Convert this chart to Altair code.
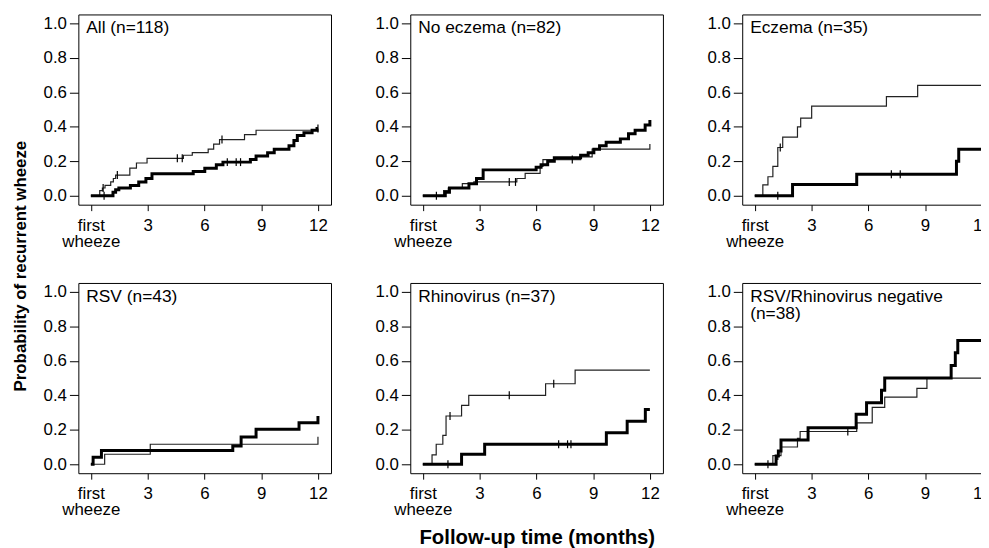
import altair as alt
import pandas as pd

FONT = "Liberation Sans"

# ---------------- data ----------------
titles = [
    ["All (n=118)"],
    ["No eczema (n=82)"],
    ["Eczema (n=35)"],
    ["RSV (n=43)"],
    ["Rhinovirus (n=37)"],
    ["RSV/Rhinovirus negative", "(n=38)"],
]

# Panel 1: All
all_thin_t = [0, 0.47, 0.61, 0.75, 1.05, 1.19, 1.31, 2.06, 2.41, 2.97, 4.89, 5.36, 6.2, 6.49, 6.8, 8.12, 8.73, 12.0]
all_thin_p = [0, 0.03, 0.045, 0.06, 0.08, 0.10, 0.12, 0.16, 0.19, 0.217, 0.235, 0.25, 0.27, 0.30, 0.326, 0.355, 0.38, 0.38]
all_thick_t = [0, 1.17, 1.31, 1.48, 2.09, 2.53, 2.91, 3.23, 5.41, 6.02, 6.63, 6.98, 8.43, 8.73, 9.34, 9.69, 10.47, 10.73, 10.91, 11.26, 11.69, 11.95, 12.0]
all_thick_p = [0, 0.02, 0.035, 0.045, 0.06, 0.08, 0.10, 0.127, 0.14, 0.16, 0.18, 0.195, 0.21, 0.23, 0.25, 0.27, 0.29, 0.32, 0.35, 0.366, 0.38, 0.39, 0.39]
all_thin_cens = [0.65, 1.4, 4.57, 4.83, 6.93]
all_thick_cens = [0.7, 7.21, 7.68, 7.91, 12.0]

# Panel 2: No eczema
noec_thin_t = [0, 1.1, 1.35, 2.09, 2.7, 4.97, 5.41, 6.2, 6.35, 8.34, 8.95, 12.0]
noec_thin_p = [0, 0.03, 0.045, 0.07, 0.08, 0.10, 0.13, 0.17, 0.21, 0.225, 0.27, 0.30]
noec_thick_t = [0, 1.19, 1.41, 2.44, 2.84, 3.19, 5.99, 6.25, 6.6, 6.95, 8.34, 8.74, 9.04, 9.34, 9.69, 10.44, 10.87, 11.22, 11.75, 12.0]
noec_thick_p = [0, 0.02, 0.045, 0.07, 0.10, 0.15, 0.165, 0.18, 0.20, 0.22, 0.235, 0.25, 0.27, 0.29, 0.31, 0.33, 0.36, 0.38, 0.41, 0.44]
noec_thin_cens = [0.72, 4.57, 4.9, 7.9]
noec_thick_cens = []

# Panel 3: Eczema
ec_thin_t = [0, 0.43, 0.70, 0.96, 1.22, 1.48, 2.26, 2.43, 3.01, 6.96, 8.61, 12.0]
ec_thin_p = [0, 0.063, 0.11, 0.17, 0.28, 0.34, 0.40, 0.45, 0.52, 0.575, 0.64, 0.64]
ec_thick_t = [0, 2.0, 5.39, 10.66, 10.78, 12.0]
ec_thick_p = [0, 0.065, 0.125, 0.20, 0.27, 0.27]
ec_thin_cens = [1.35]
ec_thick_cens = [1.22, 7.22, 7.69]

# Panel 4: RSV
rsv_thin_t = [0, 0.73, 3.14, 12.0]
rsv_thin_p = [0, 0.058, 0.116, 0.16]
rsv_thick_t = [0, 0.12, 0.56, 7.5, 7.94, 8.73, 11.0, 12.0]
rsv_thick_p = [0, 0.04, 0.08, 0.106, 0.158, 0.203, 0.241, 0.28]
rsv_thin_cens = []
rsv_thick_cens = []

# Panel 5: Rhinovirus
rhi_thin_t = [0, 0.49, 0.71, 1.06, 1.23, 2.05, 2.43, 6.49, 8.05, 12.0]
rhi_thin_p = [0, 0.054, 0.116, 0.168, 0.28, 0.342, 0.40, 0.467, 0.546, 0.546]
rhi_thick_t = [0, 2.05, 3.27, 9.7, 10.8, 11.76, 12.0]
rhi_thick_p = [0, 0.058, 0.116, 0.183, 0.25, 0.318, 0.318]
rhi_thin_cens = [1.44, 4.57, 6.92]
rhi_thick_cens = [1.33, 7.18, 7.65, 7.83]

# Panel 6: RSV/Rhinovirus negative
neg_thin_t = [0, 0.96, 1.39, 2.26, 2.4, 5.39, 6.21, 6.87, 8.57, 9.1, 12.0]
neg_thin_p = [0, 0.05, 0.10, 0.15, 0.19, 0.24, 0.33, 0.39, 0.44, 0.50, 0.50]
neg_thick_t = [0, 1.13, 1.25, 1.39, 2.82, 5.36, 5.91, 6.7, 6.87, 10.38, 10.6, 10.73, 12.0]
neg_thick_p = [0, 0.048, 0.077, 0.141, 0.212, 0.29, 0.357, 0.43, 0.50, 0.573, 0.647, 0.718, 0.718]
neg_thin_cens = [0.7, 4.92]
neg_thick_cens = [1.22]

x_ticks = [0, 3, 6, 9, 12]
y_ticks = [0, 0.2, 0.4, 0.6, 0.8, 1.0]


def step_at(ts, ps, x):
    val = ps[0]
    for t, p in zip(ts, ps):
        if t <= x:
            val = p
    return val


def panel(lines, thin_t, thin_p, thick_t, thick_p, thin_c, thick_c):
    xs = alt.Scale(domain=[-0.66, 12.69], nice=False, zero=False)
    ys = alt.Scale(domain=[-0.052, 1.052], nice=False, zero=False)
    xaxis = alt.Axis(values=x_ticks, title=None, grid=False, domain=False,
                     labelExpr="datum.value == 0 ? ['first', 'wheeze'] : datum.label",
                     tickSize=6, tickColor="black", labelPadding=7, labelFontSize=17,
                     labelFont=FONT, labelColor="black", labelLineHeight=16,
                     labelFlush=False, labelOverlap=False)
    yaxis = alt.Axis(values=y_ticks, title=None, grid=False, domain=False, format=".1f",
                     tickSize=9, tickColor="black", labelPadding=3, labelFontSize=17,
                     labelFont=FONT, labelColor="black", labelFlush=False)
    X = alt.X("t:Q", scale=xs, axis=xaxis)
    Y = alt.Y("p:Q", scale=ys, axis=yaxis)

    thin = alt.Chart(pd.DataFrame({"t": thin_t, "p": thin_p})).mark_line(
        interpolate="step-after", color="#222222", strokeWidth=1.2).encode(x=X, y=Y)
    thick = alt.Chart(pd.DataFrame({"t": thick_t, "p": thick_p})).mark_line(
        interpolate="step-after", color="black", strokeWidth=3).encode(x=X, y=Y)

    cens_rows = [{"t": c, "p": step_at(thin_t, thin_p, c)} for c in thin_c] + \
                [{"t": c, "p": step_at(thick_t, thick_p, c)} for c in thick_c]
    layers = [thin, thick]
    if cens_rows:
        cens = alt.Chart(pd.DataFrame(cens_rows)).mark_point(
            shape="M0,-1L0,1", size=64, filled=False, color="black",
            strokeWidth=1.2, opacity=1).encode(x=X, y=Y)
        layers.append(cens)
    label = alt.Chart(pd.DataFrame({"k": [0]})).mark_text(
        text=lines, align="left", baseline="alphabetic", fontSize=17.5, font=FONT,
        color="black", lineHeight=17).encode(x=alt.value(8), y=alt.value(19))
    layers.append(label)
    return alt.layer(*layers).properties(width=255, height=192)


p1 = panel(titles[0], all_thin_t, all_thin_p, all_thick_t, all_thick_p, all_thin_cens, all_thick_cens)
p2 = panel(titles[1], noec_thin_t, noec_thin_p, noec_thick_t, noec_thick_p, noec_thin_cens, noec_thick_cens)
p3 = panel(titles[2], ec_thin_t, ec_thin_p, ec_thick_t, ec_thick_p, ec_thin_cens, ec_thick_cens)
p4 = panel(titles[3], rsv_thin_t, rsv_thin_p, rsv_thick_t, rsv_thick_p, rsv_thin_cens, rsv_thick_cens)
p5 = panel(titles[4], rhi_thin_t, rhi_thin_p, rhi_thick_t, rhi_thick_p, rhi_thin_cens, rhi_thick_cens)
p6 = panel(titles[5], neg_thin_t, neg_thin_p, neg_thick_t, neg_thick_p, neg_thin_cens, neg_thick_cens)

row1 = alt.hconcat(p1, p2, p3, spacing=42)
row2 = alt.hconcat(p4, p5, p6, spacing=42)
grid = alt.vconcat(row1, row2, spacing=32,
                   title=alt.TitleParams("Probability of recurrent wheeze", orient="left",
                                         anchor="middle", fontSize=17, fontWeight="bold",
                                         font=FONT, color="black", offset=13))
chart = alt.vconcat(grid, title=alt.TitleParams("Follow-up time (months)", orient="bottom",
                                                anchor="middle", fontSize=20.5, fontWeight="bold",
                                                font=FONT, color="black", offset=10, dx=34)
                    ).configure_view(stroke="black", strokeWidth=1).properties(
    padding={"left": 3, "top": 3, "right": -15, "bottom": 0})

chart.save("out.html", embed_options={"renderer": "svg", "actions": False})
